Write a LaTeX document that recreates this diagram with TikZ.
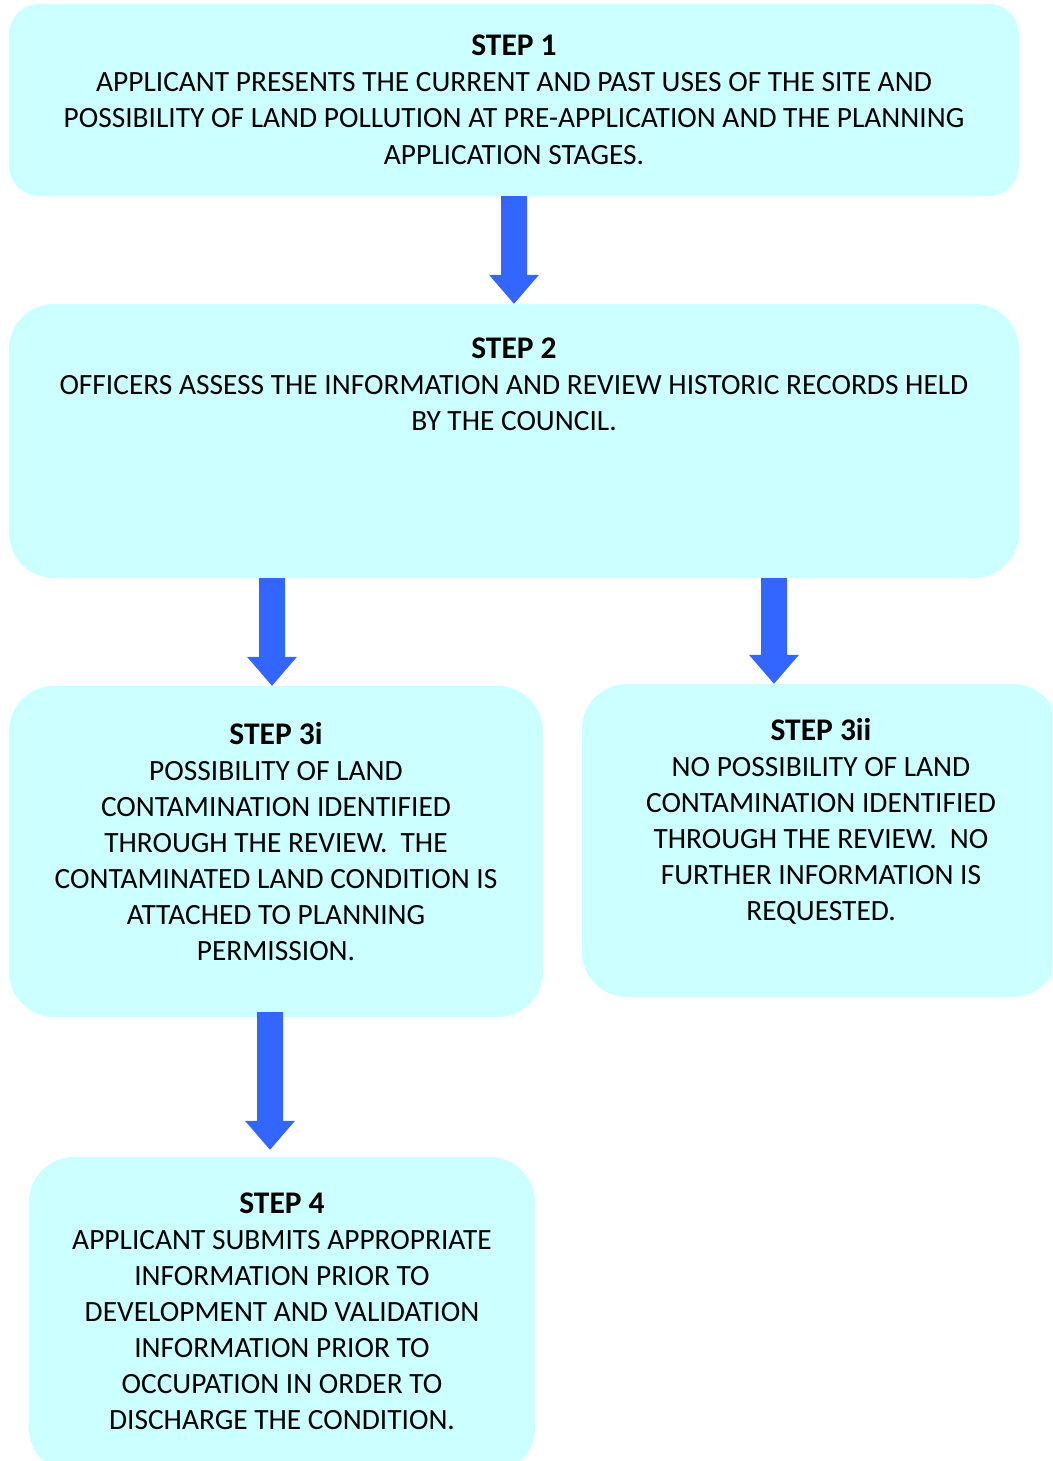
\documentclass[tikz,border=0pt]{standalone}
\usepackage{fontspec}
\setmainfont{Carlito}
\usetikzlibrary{calc}
\definecolor{boxfill}{HTML}{CCFFFF}
\definecolor{arrowblue}{HTML}{3366FF}
\newcommand\stephead[1]{{\fontsize{31.5}{36}\selectfont\bfseries #1}}
\tikzset{
  stepbox/.style={fill=boxfill, draw=none, inner sep=0pt, rounded corners=#1},
  stepbox/.default=45pt,
  steptext/.style={anchor=north, inner sep=0pt, align=center, text=black,
    font=\fontsize{29.4}{36}\selectfont},
  blockarrow/.style={fill=arrowblue, draw=none}
}
\newcommand\blockarrow[3]{%
  \fill[blockarrow] let \p1=(#2), \p2=(#3) in
    (#1-13pt,\y1) -- (#1+13pt,\y1) -- (#1+13pt,\y2+29pt) -- (#1+25pt,\y2+29pt)
    -- (#1,\y2) -- (#1-25pt,\y2+29pt) -- (#1-13pt,\y2+29pt) -- cycle;}
\begin{document}
\begin{tikzpicture}[x=1pt,y=-1pt]
\useasboundingbox (0,0) rectangle (1052,1461);
\clip (0,0) rectangle (1052,1461);
% boxes
\node[stepbox=30pt, minimum width=1010pt, minimum height=192pt] (b1) at (514,100) {};
\node[stepbox, minimum width=1010pt, minimum height=274pt] (b2) at (514,441) {};
\node[stepbox, minimum width=534pt, minimum height=331pt] (b3a) at (276,851.5) {};
\node[stepbox, minimum width=476pt, minimum height=313pt] (b3b) at (820,840.5) {};
\node[stepbox, minimum width=506pt, minimum height=316pt] (b4) at (282,1315) {};
% texts
\node[steptext] (t1) at (514,35) {\stephead{STEP 1}\\
APPLICANT PRESENTS THE CURRENT AND PAST USES OF THE SITE AND\\
POSSIBILITY OF LAND POLLUTION AT PRE-APPLICATION AND THE PLANNING\\[1pt]
APPLICATION STAGES.};
\node[steptext] (t2) at (514,338) {\stephead{STEP 2}\\
OFFICERS ASSESS THE INFORMATION AND REVIEW HISTORIC RECORDS HELD\\
BY THE COUNCIL.};
\node[steptext] (t3a) at (276,722) {\stephead{STEP 3i}\\
POSSIBILITY OF LAND\\
CONTAMINATION IDENTIFIED\\
THROUGH THE REVIEW.\ \ THE\\
CONTAMINATED LAND CONDITION IS\\
ATTACHED TO PLANNING\\
PERMISSION.};
\node[steptext] (t3b) at (821,718) {\stephead{STEP 3ii}\\
NO POSSIBILITY OF LAND\\
CONTAMINATION IDENTIFIED\\
THROUGH THE REVIEW.\ \ NO\\
FURTHER INFORMATION IS\\
REQUESTED.};
\node[steptext] (t4) at (282,1193) {\stephead{STEP 4}\\
APPLICANT SUBMITS APPROPRIATE\\
INFORMATION PRIOR TO\\
DEVELOPMENT AND VALIDATION\\
INFORMATION PRIOR TO\\
OCCUPATION IN ORDER TO\\
DISCHARGE THE CONDITION.};
% arrows
\blockarrow{514pt}{b1.south}{b2.north}
\blockarrow{272pt}{b2.south}{b3a.north}
\blockarrow{774pt}{b2.south}{b3b.north}
\blockarrow{270pt}{$(b3a.south)+(0,-5)$}{$(b4.north)+(0,-7)$}
\end{tikzpicture}
\end{document}
